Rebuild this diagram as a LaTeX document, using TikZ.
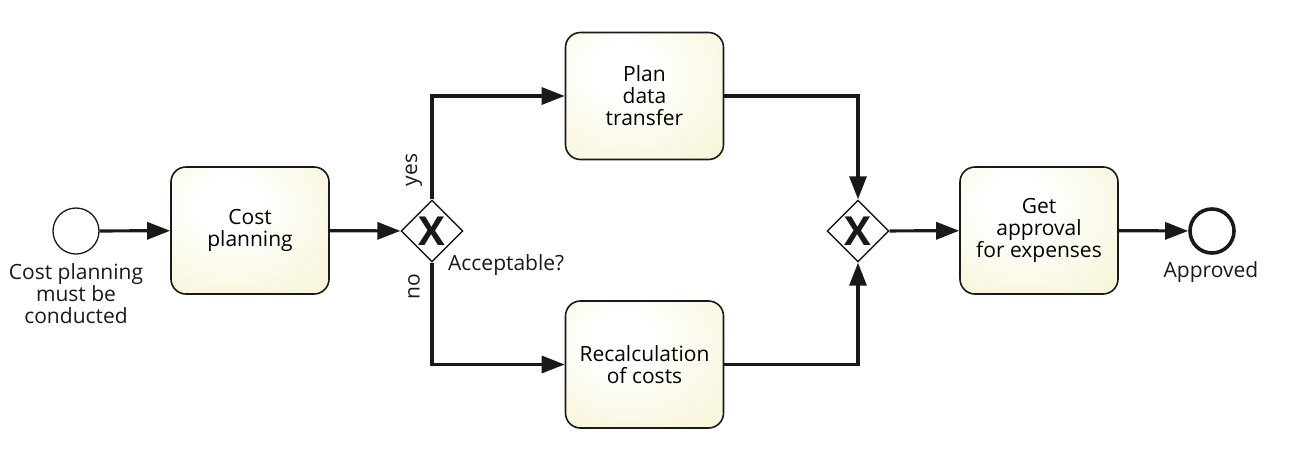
\documentclass[tikz,border=0pt]{standalone}
\usepackage{fontspec}
\setmainfont{Open Sans}
\usetikzlibrary{shapes.geometric,arrows.meta}
\definecolor{taskyel}{RGB}{244,240,196}
\definecolor{lineblk}{RGB}{25,25,25}
\pgfdeclareradialshading{taskshade}{\pgfpoint{-8bp}{12bp}}{color(0bp)=(white); color(10bp)=(white); color(55bp)=(taskyel); color(80bp)=(taskyel)}
\tikzset{
  task/.style={draw=lineblk, line width=1.6pt, rounded corners=15pt, minimum width=158pt, minimum height=127pt,
    shading=taskshade, align=center, font=\fontsize{21}{22}\selectfont, inner sep=0pt},
  gw/.style={draw=lineblk, line width=1.4pt, diamond, aspect=1, minimum width=62pt, minimum height=62pt, inner sep=0pt, fill=white},
  xmark/.style={font=\fontsize{40}{40}\bfseries\selectfont, inner sep=0pt, text=lineblk},
  startev/.style={draw=lineblk, line width=1.3pt, circle, minimum size=46pt, inner sep=0pt, fill=white},
  endev/.style={draw=lineblk, line width=3.6pt, circle, minimum size=44pt, inner sep=0pt, fill=white},
  flow/.style={line width=3.2pt, draw=lineblk, -{Triangle[length=23pt,width=17pt]}},
  lbl/.style={font=\fontsize{21}{22}\selectfont, align=center, inner sep=0pt, text=lineblk}
}
\begin{document}
\begin{tikzpicture}[x=1pt,y=-1pt]
\useasboundingbox (0,0) rectangle (1291,464);
\node[startev] (s) at (76,231) {};
\node[task] (cost) at (250,230.5) {Cost\\planning};
\node[gw] (g1) at (432,231) {};
\node[xmark] (x1) at (g1.center) {X};
\node[task] (plan) at (644.5,96) {Plan\\data\\transfer};
\node[task] (recalc) at (644.5,364.5) {Recalculation\\of costs};
\node[gw] (g2) at (858,231) {};
\node[xmark] (x2) at (g2.center) {X};
\node[task] (appr) at (1039,230.5) {Get\\approval\\for expenses};
\node[endev] (e) at (1212,231) {};

\node[lbl] (slbl) at (76,294) {Cost planning\\must be\\conducted};
\node[lbl, anchor=base west] (acc) at (448,270) {Acceptable?};
\node[lbl, rotate=90] (yes) at (414,170) {yes};
\node[lbl, rotate=90] (no) at (414,287) {no};
\node[lbl, anchor=base] (apl) at (1211,277) {Approved};

\draw[flow] (s) -- (cost);
\draw[flow] (cost) -- (g1);
\draw[flow] (g1.north) |- (plan.west);
\draw[flow] (g1.south) |- (recalc.west);
\draw[flow] (plan.east) -| (g2.north);
\draw[flow] (recalc.east) -| (g2.south);
\draw[flow] (g2) -- (appr);
\draw[flow] (appr) -- (e);
\end{tikzpicture}
\end{document}
